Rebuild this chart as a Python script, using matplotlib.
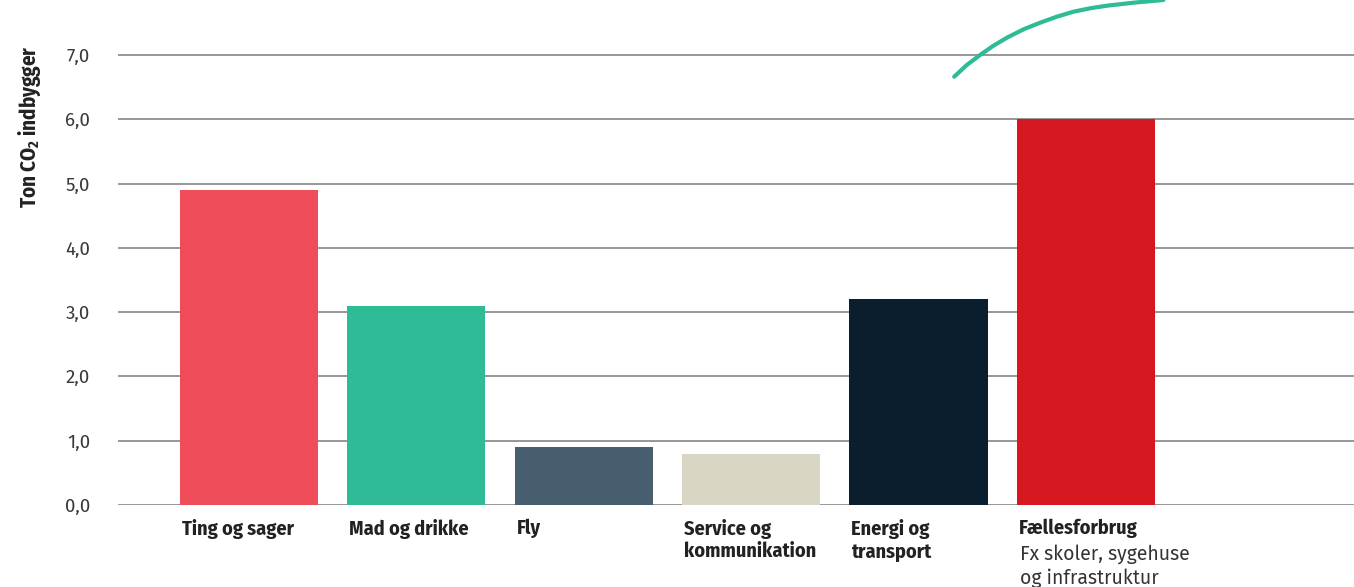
import matplotlib
matplotlib.use('Agg')
import matplotlib.pyplot as plt

categories = ['Ting og sager', 'Mad og drikke', 'Fly', 'Service og\nkommunikation',
              'Energi og\ntransport', 'Fællesforbrug']
values = [4.9, 3.1, 0.9, 0.8, 3.2, 6.0]
colors = ['#EF4D5A', '#2EBB96', '#475E6E', '#D9D6C5', '#0A1E2D', '#D61820']
subtitle = 'Fx skoler, sygehuse\nog infrastruktur'
yticks = [0, 1, 2, 3, 4, 5, 6, 7]

# decorative curve above the last bars (category index, value)
curve_x = [4.213, 4.288, 4.367, 4.447, 4.527, 4.627, 4.725, 4.825, 4.925, 5.024, 5.124, 5.283, 5.462]
curve_y = [6.661, 6.843, 6.998, 7.143, 7.267, 7.398, 7.500, 7.594, 7.672, 7.725, 7.765, 7.812, 7.854]

plt.rcParams['mathtext.fontset'] = 'custom'
plt.rcParams['mathtext.rm'] = 'Fira Sans Condensed:bold'
plt.rcParams['mathtext.default'] = 'rm'

lab_font = 'Fira Sans Condensed'
txt_font = 'Fira Sans'

fig = plt.figure(figsize=(13.54, 5.87), dpi=100)
ax = fig.add_axes([118 / 1354, 82 / 587, 1236 / 1354, 505 / 587])

w = 0.825
x = list(range(len(categories)))
ax.bar(x, values, width=w, color=colors, zorder=3)
ax.plot(curve_x, curve_y, color='#2EBB96', lw=3, solid_capstyle='round', zorder=4)

ax.set_xlim(-0.78, 6.6)
ax.set_ylim(0, 7.854)
ax.set_yticks(yticks)
ax.set_yticklabels([f'{t:.1f}'.replace('.', ',') for t in yticks],
                   family=txt_font, fontsize=13.5, color='#3a3a3a')
ax.tick_params(axis='y', length=0, pad=20)
ax.set_xticks([])
for t in yticks:
    ax.axhline(t, color='#7a7a7a', lw=1.1, zorder=1)
for s in ax.spines.values():
    s.set_visible(False)

for i, name in enumerate(categories):
    ax.annotate(name, xy=(i - w / 2, 0), xytext=(2, -14), textcoords='offset pixels',
                ha='left', va='top', fontsize=14.5, fontweight='bold',
                family=lab_font, color='#222222', linespacing=1.2)
ax.annotate(subtitle, xy=(5 - w / 2, 0), xytext=(3, -39), textcoords='offset pixels',
            ha='left', va='top', fontsize=14, family=txt_font,
            color='#333333', linespacing=1.3, annotation_clip=False)

fig.text(30 / 1354, 1 - 127 / 587, 'Ton CO$_2$ indbygger', rotation=90, ha='center',
         va='center', fontsize=15, fontweight='bold', family=lab_font, color='#222222')

fig.savefig('out.png', dpi=100)
plt.close()
